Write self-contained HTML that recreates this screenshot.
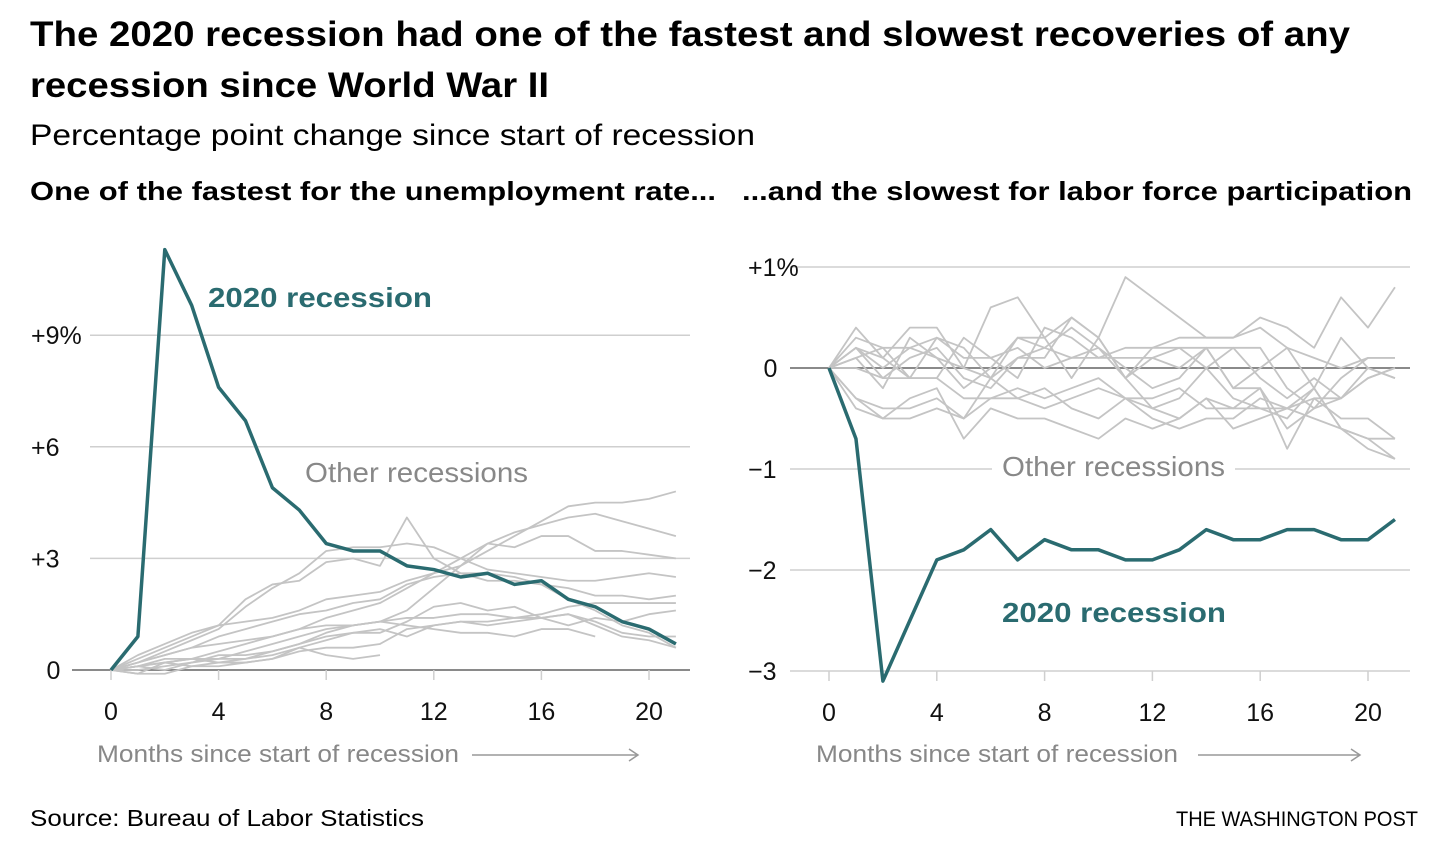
<!DOCTYPE html>
<html><head><meta charset="utf-8">
<style>
html,body{margin:0;padding:0;background:#fff;}
svg{display:block;font-family:"Liberation Sans Narrow","Liberation Sans",sans-serif;}
</style></head>
<body>
<svg width="1456" height="855" viewBox="0 0 1456 855">
<text x="30" y="46" font-size="35" font-weight="bold" textLength="1320" lengthAdjust="spacingAndGlyphs">The 2020 recession had one of the fastest and slowest recoveries of any</text>
<text x="30" y="97" font-size="35" font-weight="bold" textLength="519" lengthAdjust="spacingAndGlyphs">recession since World War II</text>
<text x="30" y="145" font-size="30" textLength="725" lengthAdjust="spacingAndGlyphs">Percentage point change since start of recession</text>
<text x="30" y="200" font-size="26" font-weight="bold" textLength="686" lengthAdjust="spacingAndGlyphs">One of the fastest for the unemployment rate...</text>
<text x="742" y="200" font-size="26" font-weight="bold" textLength="670" lengthAdjust="spacingAndGlyphs">...and the slowest for labor force participation</text>
<g id="left"></g>
<g id="right"></g>
<text x="30" y="826" font-size="23" textLength="394" lengthAdjust="spacingAndGlyphs">Source: Bureau of Labor Statistics</text>
<text x="1418" y="826" font-size="21" text-anchor="end" textLength="242" lengthAdjust="spacingAndGlyphs">THE WASHINGTON POST</text>
</svg>
<script>
const months = [0,1,2,3,4,5,6,7,8,9,10,11,12,13,14,15,16,17,18,19,20,21];
const xTicks = [0,4,8,12,16,20];
const unempTicks = [0,3,6,9];
const unempTickLabels = ["0","+3","+6","+9%"];
const lfpTicks = [-3,-2,-1,0,1];
const lfpTickLabels = ["\u22123","\u22122","\u22121","0","+1%"];
const unemp2020 = [0,0.9,11.3,9.8,7.6,6.7,4.9,4.3,3.4,3.2,3.2,2.8,2.7,2.5,2.6,2.3,2.4,1.9,1.7,1.3,1.1,0.7];
const unempOther = [
 [0,0.3,0.6,0.9,1.2,1.9,2.3,2.4,2.9,3.0,2.8,4.1,3.0,2.6,2.4,2.4,2.3,1.9,1.6,1.2,1.0,0.6],
 [0,0.2,0.5,0.8,1.1,1.7,2.2,2.6,3.2,3.3,3.3,3.4,3.3,3.0,2.7,2.6,2.5,2.4,2.4,2.5,2.6,2.5],
 [0,0.4,0.7,1.0,1.2,1.3,1.4,1.6,1.9,2.0,2.1,2.4,2.6,2.8,3.4,3.3,3.6,3.6,3.2,3.2,3.1,3.0],
 [0,0.1,0.2,0.3,0.5,0.7,0.9,1.1,1.4,1.6,1.8,2.2,2.6,3.0,3.4,3.7,3.9,4.1,4.2,4.0,3.8,3.6],
 [0,0,0.1,0.2,0.3,0.5,0.7,0.9,1.1,1.2,1.3,1.6,2.2,2.8,3.2,3.6,4.0,4.4,4.5,4.5,4.6,4.8],
 [0,0.2,0.4,0.6,0.9,1.1,1.3,1.5,1.6,1.8,1.9,2.3,2.5,2.6,2.6,2.5,2.3,2.2,2.0,2.0,1.9,2.0],
 [0,0.1,0.3,0.3,0.3,0.3,0.5,0.7,1.0,1.2,1.3,1.4,1.4,1.5,1.5,1.4,1.5,1.7,1.8,1.8,1.8,1.8],
 [0,-0.1,0.2,0.3,0.2,0.3,0.4,0.6,0.8,1.0,1.1,0.9,1.2,1.3,1.2,1.3,1.4,1.2,1.4,1.3,1.5,1.6],
 [0,0.1,0,0.2,0.4,0.4,0.5,0.7,0.9,1.0,1.0,1.3,1.7,1.8,1.6,1.7,1.4,1.5,1.2,0.9,0.8,0.6],
 [0,-0.1,-0.1,0.1,0.2,0.2,0.3,0.5,0.6,0.6,0.7,1.1,1.2,1.3,1.3,1.4,1.4,1.5,1.3,1.0,0.9,0.9],
 [0,0.2,0.4,0.6,0.7,0.8,0.9,1.1,1.2,1.2,1.3,1.2,1.1,1.0,1.0,0.9,1.1,1.1,0.9],
 [0,0.1,0.2,0.1,0.1,0.2,0.3,0.6,0.4,0.3,0.4]
];
const lfp2020 = [0,-0.7,-3.1,-2.5,-1.9,-1.8,-1.6,-1.9,-1.7,-1.8,-1.8,-1.9,-1.9,-1.8,-1.6,-1.7,-1.7,-1.6,-1.6,-1.7,-1.7,-1.5];
const lfpOther = [
 [0,0.4,0.1,0.4,0.4,0,0.6,0.7,0.3,-0.1,0.3,0.9,0.7,0.5,0.3,0.3,0.5,0.4,0.2,0.7,0.4,0.8],
 [0,0.3,0.2,-0.1,0.3,0.2,-0.1,0.1,0.1,0.5,0.3,-0.1,0.2,0.3,0.3,0.3,0.4,0.2,-0.2,0.3,0,-0.1],
 [0,0.2,0,0.2,0.3,0.1,0.1,-0.1,0.4,0.3,0.1,0.2,0.2,0.2,0.2,-0.2,0,0.2,0.1,0,0.1,0.1],
 [0,0.1,0.2,0.2,0.1,0,-0.1,0.3,0.3,0.5,0.3,-0.1,0.1,0.2,0,0.2,0.2,-0.2,-0.4,-0.1,0.1,0.1],
 [0,0,-0.1,-0.1,-0.1,0.3,0.1,0.2,0,0.1,0.1,0.1,0.1,0,0.2,0.2,-0.1,-0.3,-0.1,-0.3,-0.1,0],
 [0,0.2,-0.1,0.1,0.2,-0.1,-0.2,0.1,0.2,0.1,0.2,-0.1,-0.4,-0.3,0,-0.3,-0.4,-0.4,-0.3,-0.5,-0.5,-0.7],
 [0,-0.3,-0.4,-0.4,-0.3,-0.5,-0.1,-0.3,-0.4,-0.3,-0.2,-0.3,-0.4,-0.5,-0.3,-0.4,-0.4,-0.5,-0.2,-0.6,-0.7,-0.7],
 [0,-0.3,-0.5,-0.5,-0.4,-0.5,-0.3,-0.3,-0.2,-0.4,-0.5,-0.3,-0.5,-0.6,-0.5,-0.5,-0.3,-0.4,-0.2,-0.6,-0.7,-0.9],
 [0,-0.4,-0.5,-0.3,-0.2,-0.7,-0.4,-0.5,-0.5,-0.6,-0.7,-0.5,-0.6,-0.5,-0.3,-0.6,-0.5,-0.4,-0.5,-0.6,-0.8,-0.9],
 [0,0.1,-0.2,0.3,0.1,-0.2,0,0.3,0.2,0.4,0.2,0,-0.2,-0.1,0.2,-0.2,-0.2,-0.6,-0.4,-0.3,-0.1,0],
 [0,0.2,0.1,-0.1,-0.1,-0.3,-0.3,-0.2,-0.3,-0.2,-0.1,-0.3,-0.3,-0.2,-0.4,-0.4,-0.2,-0.8,-0.3,-0.3,0,-0.1]
];

const NS="http://www.w3.org/2000/svg";
function mk(parent,tag,attrs,text){const e=document.createElementNS(NS,tag);for(const k in attrs)e.setAttribute(k,attrs[k]);if(text!==undefined)e.textContent=text;parent.appendChild(e);return e;}

function drawPanel(g,cfg){
  const sx=m=>cfg.x0+m*cfg.pxPerMonth;
  const sy=v=>cfg.yZero-v*cfg.pxPerUnit;
  cfg.ticks.forEach((t,i)=>{
    const y=sy(t);
    const ln=mk(g,"line",{x1:t===0?cfg.zeroStart:cfg.gridStart,x2:cfg.gridEnd,y1:y,y2:y,stroke:t===0?"#8a8a8a":"#cfcfcf","stroke-width":t===0?2:1.5});
    
    
    const lbl=cfg.tickLabels[i];
    const hasPct=lbl.endsWith('%');
    const numW=(hasPct?lbl.length-1:lbl.length);
    const tx=mk(g,"text",{x:cfg.labelRight-numW*15.5,y:y+9,"font-size":25,fill:"#111"});
    
    
    mk(tx,"tspan",{},hasPct?lbl.slice(0,-1):lbl);
    if(hasPct){mk(tx,"tspan",{},"%");}
  });
  xTicks.forEach(t=>{
    const x=sx(t);
    const tk=mk(g,"line",{x1:x,x2:x,y1:cfg.axisY,y2:cfg.axisY+10,stroke:"#cfcfcf","stroke-width":1.5});
    
    
    const tl=mk(g,"text",{x:x,y:cfg.axisY+50,"font-size":25,"text-anchor":"middle",fill:"#111"},String(t));
    
    
  });
  cfg.others.forEach(s=>{
    const p=mk(g,"polyline",{points:s.map((v,i)=>sx(months[i])+","+sy(v)).join(" "),fill:"none",stroke:"#c4c4c4","stroke-width":1.8,"stroke-linejoin":"round"});
    
    
  });
  const main=mk(g,"polyline",{points:cfg.main.map((v,i)=>sx(months[i])+","+sy(v)).join(" "),fill:"none",stroke:"#2a6b70","stroke-width":3.5,"stroke-linejoin":"round"});
  
  
  const bg=mk(g,"rect",{x:cfg.otherLbl[0]-10,y:cfg.otherLbl[1]-24,width:cfg.otherLbl[2]+20,height:30,fill:"#fff"});
  
  
  const ol=mk(g,"text",{x:cfg.otherLbl[0],y:cfg.otherLbl[1],"font-size":28,fill:"#888",textLength:cfg.otherLbl[2],lengthAdjust:"spacingAndGlyphs"},"Other recessions");
  
  
  const rl=mk(g,"text",{x:cfg.mainLbl[0],y:cfg.mainLbl[1],"font-size":28,"font-weight":"bold",fill:"#2a6b70",textLength:224,lengthAdjust:"spacingAndGlyphs"},"2020 recession");
  
  
  const at=mk(g,"text",{x:cfg.axTitle[0],y:762,"font-size":24,fill:"#888",textLength:362,lengthAdjust:"spacingAndGlyphs"},"Months since start of recession");
  
  
  const ar=mk(g,"path",{d:`M${cfg.axTitle[1]} 755 H${cfg.axTitle[2]} M${cfg.axTitle[2]-9} 749 L${cfg.axTitle[2]} 755 L${cfg.axTitle[2]-9} 761`,fill:"none",stroke:"#999","stroke-width":1.5});
  
  
}
drawPanel(document.getElementById('left'),{x0:111,pxPerMonth:26.9,yZero:670,pxPerUnit:37.2,ticks:unempTicks,tickLabels:unempTickLabels,
  gridStart:90,zeroStart:72,gridEnd:690,labelRight:62,axisY:670,others:unempOther,main:unemp2020,
  otherLbl:[305,482,223],mainLbl:[208,307],axTitle:[97,472,638]});
drawPanel(document.getElementById('right'),{x0:829,pxPerMonth:26.95,yZero:368,pxPerUnit:101,ticks:lfpTicks,tickLabels:lfpTickLabels,
  gridStart:790,zeroStart:790,gridEnd:1410,labelRight:779,axisY:671,others:lfpOther,main:lfp2020,
  otherLbl:[1002,476,223],mainLbl:[1002,622],axTitle:[816,1198,1360]});
</script>
</body></html>
